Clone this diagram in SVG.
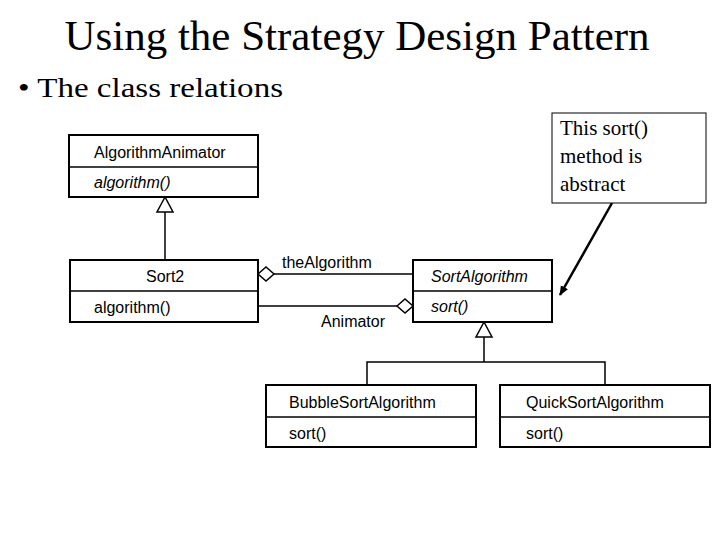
<svg xmlns="http://www.w3.org/2000/svg" width="720" height="540" viewBox="0 0 720 540">
<style>
.box{fill:#fff;stroke:#000;stroke-width:2}
.ln{stroke:#000;stroke-width:1.5;fill:none}
.t{font-family:"Liberation Sans",Arial,sans-serif;font-size:16px;fill:#000}
.i{font-style:italic}
.s{font-family:"Liberation Serif","Times New Roman",serif;fill:#000}
</style>
<defs>
<marker id="ah" markerWidth="10" markerHeight="10" refX="9" refY="5" orient="auto" markerUnits="userSpaceOnUse" viewBox="0 0 10 10"><path d="M0,1 L10,5 L0,9 z" fill="#000"/></marker>
</defs>
<rect width="720" height="540" fill="#fff"/>
<text class="s" x="357" y="50" font-size="43" text-anchor="middle">Using the Strategy Design Pattern</text>
<text class="s" x="18" y="97" font-size="28" textLength="265" lengthAdjust="spacingAndGlyphs">• The class relations</text>
<g id="connectors">
<line class="ln" x1="165" y1="212" x2="165" y2="260"/>
<polygon points="165,197 157,212 173,212" fill="#fff" stroke="#000" stroke-width="1.5"/>
<line class="ln" x1="484" y1="337" x2="484" y2="362"/>
<polygon points="484,322 476,337 492,337" fill="#fff" stroke="#000" stroke-width="1.5"/>
<polyline class="ln" points="367,385 367,362 605,362 605,385"/>
<line class="ln" x1="274" y1="274" x2="413" y2="274"/>
<polygon points="258,274 266,267 274,274 266,281" fill="#fff" stroke="#000" stroke-width="1.5"/>
<line class="ln" x1="258" y1="306" x2="397" y2="306"/>
<polygon points="397,306 405,299 413,306 405,313" fill="#fff" stroke="#000" stroke-width="1.5"/>
<text class="t" x="282" y="268">theAlgorithm</text>
<text class="t" x="321" y="327">Animator</text>
<line x1="612" y1="203" x2="560" y2="295" stroke="#000" stroke-width="2.5" marker-end="url(#ah)"/>
</g>
<g id="AlgorithmAnimator">
<rect class="box" x="69" y="135" width="189" height="62"/>
<line class="ln" x1="69" y1="167" x2="258" y2="167"/>
<text class="t" x="94" y="158">AlgorithmAnimator</text>
<text class="t i" x="94" y="188">algorithm()</text>
</g>
<g id="Sort2">
<rect class="box" x="70" y="260" width="188" height="62"/>
<line class="ln" x1="70" y1="291" x2="258" y2="291"/>
<text class="t" x="146" y="282">Sort2</text>
<text class="t" x="94" y="313">algorithm()</text>
</g>
<g id="SortAlgorithm">
<rect class="box" x="413" y="260" width="139" height="62"/>
<line class="ln" x1="413" y1="291" x2="552" y2="291"/>
<text class="t i" x="431" y="282">SortAlgorithm</text>
<text class="t i" x="431" y="312">sort()</text>
</g>
<g id="BubbleSortAlgorithm">
<rect class="box" x="266" y="385" width="210" height="62"/>
<line class="ln" x1="266" y1="417" x2="476" y2="417"/>
<text class="t" x="289" y="408">BubbleSortAlgorithm</text>
<text class="t" x="289" y="439">sort()</text>
</g>
<g id="QuickSortAlgorithm">
<rect class="box" x="500" y="385" width="210" height="62"/>
<line class="ln" x1="500" y1="417" x2="710" y2="417"/>
<text class="t" x="526" y="408">QuickSortAlgorithm</text>
<text class="t" x="526" y="439">sort()</text>
</g>
<g id="callout">
<rect x="552" y="113" width="154" height="90" fill="#fff" stroke="#000" stroke-width="1"/>
<text class="s" x="560" y="135" font-size="21">This sort()</text>
<text class="s" x="560" y="163" font-size="21">method is</text>
<text class="s" x="560" y="191" font-size="21">abstract</text>
</g>
</svg>
